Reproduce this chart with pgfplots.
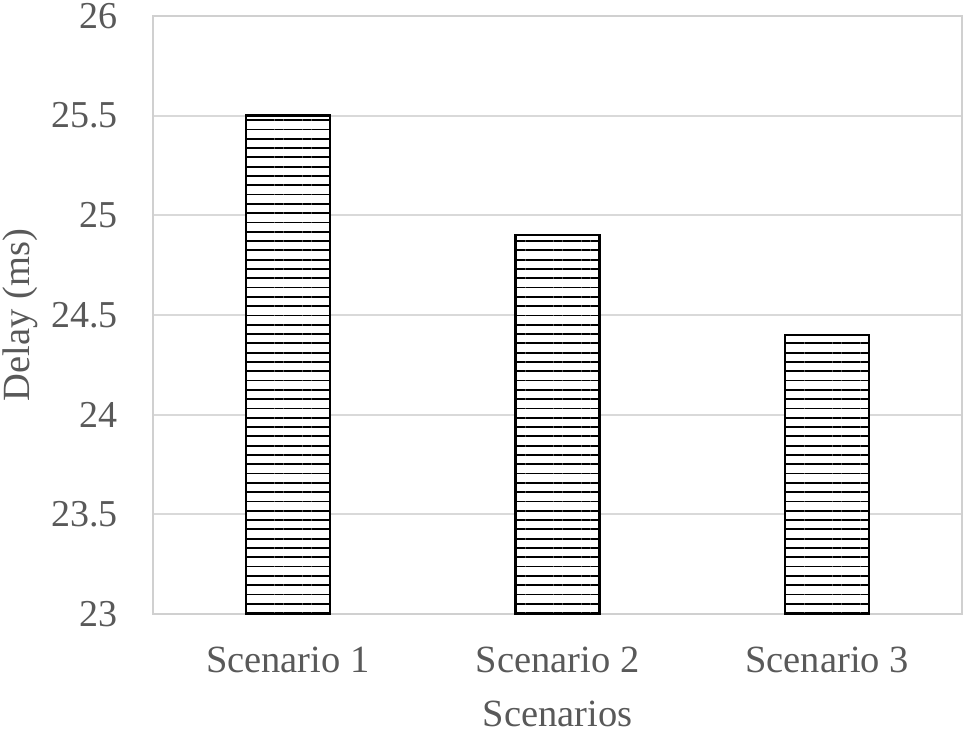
\documentclass[border=0pt]{standalone}
\usepackage{fontspec}
\setmainfont{Liberation Serif}
\usepackage{pgfplots}
\pgfplotsset{compat=1.18}
\usetikzlibrary{patterns.meta}
\definecolor{txt}{HTML}{595959}
\definecolor{gridc}{HTML}{D9D9D9}
\definecolor{framec}{HTML}{D0D0D0}
\begin{document}
\begin{tikzpicture}
\begin{axis}[
  scale only axis,
  width=809bp, height=598bp,
  xmin=-0.5, xmax=2.5,
  ymin=23, ymax=26,
  ytick={23,23.5,24,24.5,25,25.5,26},
  xtick=data,
  xticklabels={Scenario 1,Scenario 2,Scenario 3},
  ymajorgrids,
  grid style={draw=gridc, line width=1.8bp},
  axis line style={draw=framec, line width=2bp},
  major tick length=0pt,
  /pgf/number format/assume math mode=true,
  /pgf/number format/fixed,
  yticklabel style={font=\fontsize{38bp}{46bp}\selectfont, text=txt, anchor=east, inner sep=0pt, xshift=-35bp},
  xticklabel style={font=\fontsize{38.5bp}{46bp}\selectfont, text=txt, anchor=base, inner sep=0pt, yshift=-58bp},
  every axis y label/.style={at={(axis description cs:0,0.5)}, rotate=90, anchor=north, inner sep=0pt, yshift=150bp, font=\fontsize{38.5bp}{46bp}\selectfont, text=txt},
  every axis x label/.style={at={(axis description cs:0.5,0)}, anchor=base, inner sep=0pt, yshift=-112bp, font=\fontsize{38.5bp}{46bp}\selectfont, text=txt},
  ylabel={Delay (ms)},
  xlabel={Scenarios},
  ybar, bar width=84bp,
]
\addplot[draw=black, line width=2.4bp, fill=white,
  postaction={pattern={Lines[angle=0,distance=9.3bp,line width=1.8bp]}}]
  coordinates {(0,25.5) (1,24.9) (2,24.4)};
\end{axis}
\pgfresetboundingbox
\path[use as bounding box] (-153bp,-120bp) rectangle ++(967bp,734bp);
\end{tikzpicture}
\end{document}
